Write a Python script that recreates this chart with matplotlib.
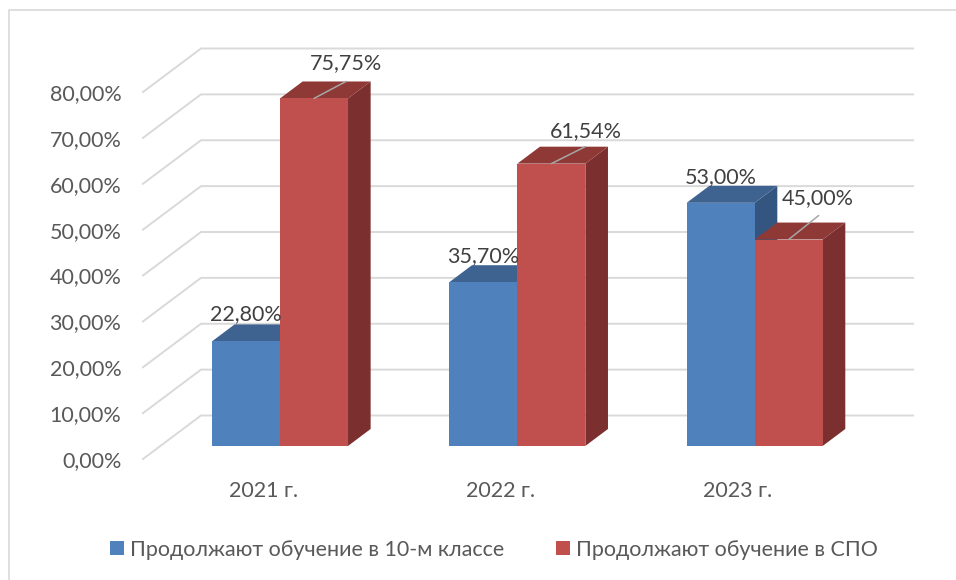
import matplotlib
matplotlib.use("Agg")
import matplotlib.pyplot as plt
from matplotlib.patches import Polygon, Patch
from matplotlib.lines import Line2D

categories = ["2021 г.", "2022 г.", "2023 г."]
series_names = ["Продолжают обучение в 10-м классе", "Продолжают обучение в СПО"]
school = [22.80, 35.70, 53.00]
spo = [75.75, 61.54, 45.00]
yticks = [0, 10, 20, 30, 40, 50, 60, 70, 80]

W, H = 956, 580
plt.rcParams['font.family'] = ['Lato', 'DejaVu Sans']
FS = 15.5
TEXT = '#595959'
LBL = '#404040'
GRID = '#D9D9D9'
BLUE = ('#4F81BD', '#3E6391', '#34557F')
RED = ('#C0504D', '#8F3937', '#7B2F2E')

fig = plt.figure(figsize=(W / 100, H / 100), dpi=100, facecolor='white')
ax = fig.add_axes([143 / W, 1 - 459 / H, 712 / W, 367 / H])
ax.set_xlim(-0.5, 2.5)
ax.set_ylim(0, 80)
for s in ax.spines.values():
    s.set_visible(False)
ax.patch.set_visible(False)

DX, DV = 58 / 237.33, 43.5 / 4.5875  # full depth of the floor, in axis units


def pt(x, v, d):
    return (x + d * DX, v + d * DV)


# walls
for v in yticks:
    ax.add_line(Line2D(*zip(pt(-0.5, v, 0), pt(-0.5, v, 1), pt(2.5, v, 1)),
                       color=GRID, lw=1.4, clip_on=False, zorder=1,
                       solid_joinstyle='miter'))

BW = 68 / 237.33
D0, D1 = 0.30, 0.69
SHIFT = 0.004


def bar(x0, x1, v, cols, z):
    front, top, side = cols
    ax.add_patch(Polygon([pt(x1, 0, D0), pt(x1, 0, D1), pt(x1, v, D1), pt(x1, v, D0)],
                         fc=side, lw=0, clip_on=False, zorder=z))
    ax.add_patch(Polygon([pt(x0, v, D0), pt(x0, v, D1), pt(x1, v, D1), pt(x1, v, D0)],
                         fc=top, lw=0, clip_on=False, zorder=z))
    ax.add_patch(Polygon([pt(x0, 0, D0), pt(x1, 0, D0), pt(x1, v, D0), pt(x0, v, D0)],
                         fc=front, lw=0, clip_on=False, zorder=z))


blue_offsets = [(0, 27), (0, 26), (0, 26)]
red_offsets = [(32, 35), (35, 33), (29, 41)]
leader_ends = [(32, 17), (34, 17), (30, 24)]

for i in range(3):
    c = i + SHIFT
    bar(c - BW, c, school[i], BLUE, 3)
    bar(c, c + BW, spo[i], RED, 3)
    ax.annotate(f"{school[i]:.2f}%".replace('.', ','), pt(c - BW / 2, school[i], D0),
                xytext=blue_offsets[i], textcoords='offset pixels',
                ha='center', va='center', fontsize=FS, color=LBL, zorder=6,
                annotation_clip=False)
    a = pt(c + BW / 2, spo[i], D0)
    ax.annotate("", a, xytext=leader_ends[i], textcoords='offset pixels',
                arrowprops=dict(arrowstyle='-', color='#A6A6A6', lw=1.1,
                                shrinkA=0, shrinkB=0), zorder=5, annotation_clip=False)
    ax.annotate(f"{spo[i]:.2f}%".replace('.', ','), a,
                xytext=red_offsets[i], textcoords='offset pixels',
                ha='center', va='center', fontsize=FS, color=LBL, zorder=6,
                annotation_clip=False)

ax.set_yticks(yticks)
ax.set_yticklabels([f"{v:.2f}%".replace('.', ',') for v in yticks], fontsize=FS, color=TEXT)
ax.set_xticks([i + 0.006 for i in range(3)])
ax.set_xticklabels(categories, fontsize=FS, color=TEXT)
ax.tick_params(axis='both', length=0)
ax.tick_params(axis='y', pad=15.5)
ax.tick_params(axis='x', pad=16)

handles = [Patch(fc=BLUE[0], lw=0), Patch(fc=RED[0], lw=0)]
fig.legend(handles, series_names, ncol=2, frameon=False, fontsize=FS, labelcolor=TEXT,
           loc='center', bbox_to_anchor=(493.5 / W, 1 - 549.5 / H),
           handlelength=0.65, handleheight=0.65, handletextpad=0.28,
           columnspacing=2.4, borderpad=0, borderaxespad=0)

# chart frame
fig.add_artist(Line2D([9 / W, 9 / W, 1], [0, 1 - 10 / H, 1 - 10 / H], color=GRID, lw=1.2,
                      transform=fig.transFigure))

fig.savefig("out.png", dpi=100, facecolor='white')
